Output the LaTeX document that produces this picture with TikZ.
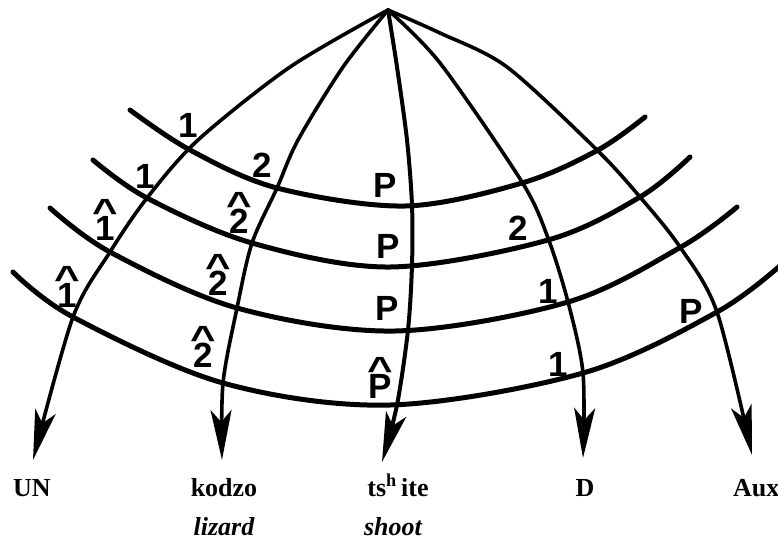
\documentclass[tikz,border=0pt]{standalone}
\usepackage{fontspec}
\setmainfont{Liberation Serif}
\newfontfamily\lblfont{Liberation Sans}
\usetikzlibrary{arrows.meta}
\newcommand{\hatx}[1]{\setbox0\hbox{#1}\hbox{\rlap{\hbox to \wd0{\hss\raisebox{0.46em}{\scalebox{1.25}[1]{\symbol{94}}}\hss}}\box0}}
\tikzset{
  meridian/.style={line width=3.6pt, line cap=round, -{Stealth[length=50pt,width=21pt,inset=12pt]}},
  parallel/.style={line width=5pt, line cap=round},
  lbl/.style={anchor=base, inner sep=0pt, font=\lblfont\bfseries\fontsize{35}{38}\selectfont},
  word/.style={anchor=base, inner sep=0pt, font=\bfseries\fontsize{26}{30}\selectfont},
  gloss/.style={anchor=base, inner sep=0pt, font=\bfseries\itshape\fontsize{26}{30}\selectfont}
}
\begin{document}
\begin{tikzpicture}[x=1pt,y=-1pt]
\useasboundingbox (0,0) rectangle (778,547);
\coordinate (apex) at (388,10);
\coordinate (tUN) at (33,460);
\coordinate (tK) at (222,460);
\coordinate (tT) at (382,462);
\coordinate (tD) at (583,458);
\coordinate (tA) at (752,455);
% parallels
\draw[parallel] plot[smooth, tension=0.55] coordinates {(130,110) (190,150) (277,188) (405,206) (522,183) (598,150) (645,117)};
\draw[parallel] plot[smooth, tension=0.55] coordinates {(93,160) (147,198) (252,243) (390,267) (548,240) (640,197) (690,157)};
\draw[parallel] plot[smooth, tension=0.55] coordinates {(50,208) (110,252) (237,308) (395,331) (568,302) (681,247) (737,207)};
\draw[parallel] plot[smooth, tension=0.55] coordinates {(13,272) (73,317) (223,383) (390,405) (583,373) (717,312) (782,264)};
% meridians
\draw[meridian] plot[smooth, tension=0.5] coordinates {(apex) (290,67) (198,140) (147,198) (110,252) (73,317) (tUN)};
\draw[meridian] plot[smooth, tension=0.5] coordinates {(apex) (343,67) (298,140) (277,188) (252,243) (237,308) (223,383) (tK)};
\draw[meridian, line width=4pt] plot[smooth, tension=0.5] coordinates {(apex) (397,67) (407,140) (412,205) (412,265) (408,330) (397,405) (tT)};
\draw[meridian] plot[smooth, tension=0.5] coordinates {(apex) (440,63) (522,182) (548,238) (568,302) (583,373) (tD)};
\draw[meridian] plot[smooth, tension=0.5] coordinates {(apex) (440,33) (507,67) (597,150) (640,197) (680,247) (717,312) (tA)};
% labels row 1
\node[lbl] (a1) at (188,137) {1};
\node[lbl] (a2) at (262,177) {2};
\node[lbl] (a3) at (385,197) {P};
% row 2
\node[lbl] (b1) at (145,188) {1};
\node[lbl] (b2) at (239,233) {\hatx{2}};
\node[lbl] (b3) at (388,258) {P};
\node[lbl] (b4) at (518,240) {2};
% row 3
\node[lbl] (c1) at (105,240) {\hatx{1}};
\node[lbl] (c2) at (218,295) {\hatx{2}};
\node[lbl] (c3) at (387,320) {P};
\node[lbl] (c4) at (548,303) {1};
% row 4
\node[lbl] (d1) at (67,307) {\hatx{1}};
\node[lbl] (d2) at (203,367) {\hatx{2}};
\node[lbl] (d3) at (380,398) {\hatx{P}};
\node[lbl] (d4) at (558,376) {1};
\node[lbl] (d5) at (691,323) {P};
% bottom words
\node[word] (un) at (32,496) {UN};
\node[word] (kodzo) at (224,496) {kodzo};
\node[gloss] (lizard) at (224,535) {lizard};
\node[word] (tshite) at (398,496) {ts\textsuperscript{h}\,ite};
\node[gloss] (shoot) at (393,535) {shoot};
\node[word] (dd) at (585,496) {D};
\node[word, anchor=base west] (aux) at (733,496) {Aux};
\end{tikzpicture}
\end{document}
